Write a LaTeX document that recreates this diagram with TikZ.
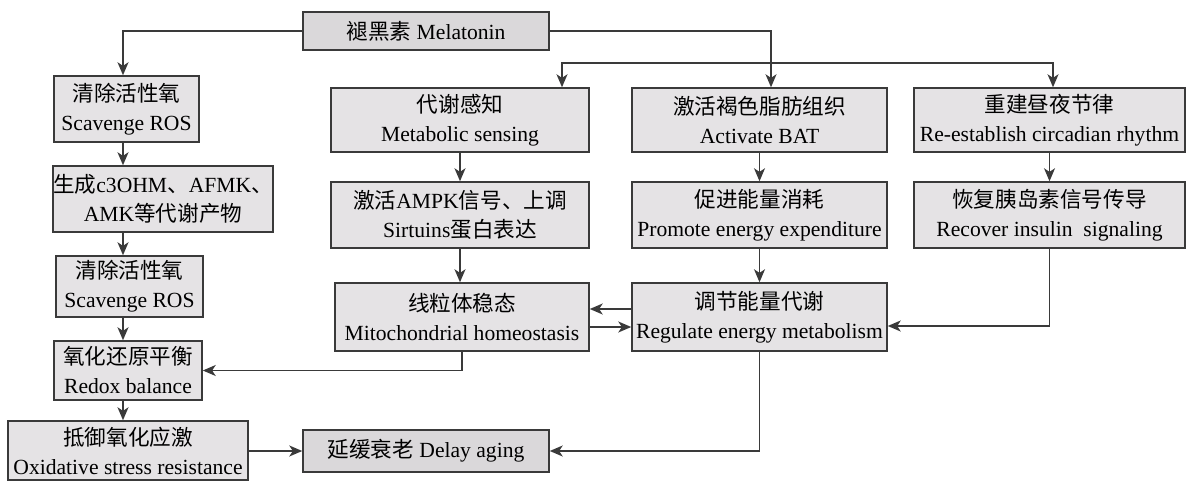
\documentclass[tikz,border=0pt]{standalone}
\usepackage{fontspec}
\setmainfont{Liberation Serif}
\newfontfamily\cjk{Noto Sans CJK SC}
\usetikzlibrary{arrows.meta}

\newcommand{\zh}[1]{{\cjk #1}}
\definecolor{boxfill}{HTML}{E5E3E5}
\definecolor{keyfill}{HTML}{DAD8DA}
\definecolor{linegray}{HTML}{3A3A3A}

\tikzset{
  box/.style={rectangle, draw=linegray, fill=boxfill, line width=0.75pt,
    inner sep=0pt, align=center, font=\fontsize{10.8pt}{14.5pt}\selectfont},
  keybox/.style={box, fill=keyfill},
  arr/.style={draw=linegray, line width=0.75pt,
    -{Stealth[length=6.5pt,width=5.5pt,inset=1.8pt]}}
}

\begin{document}
\begin{tikzpicture}[x=0.5pt,y=-0.5pt]
  \useasboundingbox (0,0) rectangle (1186,481);
  % Boxes
  \node[keybox, minimum width=123pt, minimum height=19pt] (mel) at (426,31) {\zh{褪黑素} Melatonin};
  \node[box, minimum width=72.5pt, minimum height=33pt] (ros1) at (126.5,109) {\zh{清除活性氧}\\Scavenge ROS};
  \node[box, minimum width=109pt, minimum height=33pt] (prod) at (163,199) {\zh{生成}c3OHM\zh{、}AFMK\zh{、}\\AMK\zh{等代谢产物}};
  \node[box, minimum width=73.5pt, minimum height=30.5pt] (ros2) at (129.5,286.5) {\zh{清除活性氧}\\Scavenge ROS};
  \node[box, minimum width=74pt, minimum height=29.5pt] (redox) at (128,370.5) {\zh{氧化还原平衡}\\Redox balance};
  \node[box, minimum width=120pt, minimum height=29.5pt] (oxi) at (128,450.5) {\zh{抵御氧化应激}\\Oxidative stress resistance};
  \node[keybox, minimum width=123pt, minimum height=21pt] (delay) at (426,451) {\zh{延缓衰老} Delay aging};
  \node[box, minimum width=129pt, minimum height=32pt] (sense) at (460,120) {\zh{代谢感知}\\Metabolic sensing};
  \node[box, minimum width=129pt, minimum height=33pt] (ampk) at (460,215) {\zh{激活}AMPK\zh{信号、上调}\\Sirtuins\zh{蛋白表达}};
  \node[box, minimum width=127pt, minimum height=34pt] (mito) at (462,317) {\zh{线粒体稳态}\\Mitochondrial homeostasis};
  \node[box, minimum width=127.5pt, minimum height=32pt] (bat) at (759.5,120) {\zh{激活褐色脂肪组织}\\Activate BAT};
  \node[box, minimum width=127.5pt, minimum height=33pt] (expend) at (759.5,215) {\zh{促进能量消耗}\\Promote energy expenditure};
  \node[box, minimum width=127.5pt, minimum height=34pt] (regul) at (759.5,317) {\zh{调节能量代谢}\\Regulate energy metabolism};
  \node[box, minimum width=135.5pt, minimum height=32pt] (circ) at (1049.5,120) {\zh{重建昼夜节律}\\Re-establish circadian rhythm};
  \node[box, minimum width=135.5pt, minimum height=33pt] (insulin) at (1049.5,215) {\zh{恢复胰岛素信号传导}\\Recover insulin~ signaling};

  \coordinate (lcol) at (123,0);
  \coordinate (fork) at (771,63);

  % Left column
  \draw[arr] (mel.west) -| (ros1.north -| lcol);
  \draw[arr] (ros1.south -| lcol) -- (prod.north -| lcol);
  \draw[arr] (prod.south -| lcol) -- (ros2.north -| lcol);
  \draw[arr] (ros2.south -| lcol) -- (redox.north -| lcol);
  \draw[arr] (redox.south -| lcol) -- (oxi.north -| lcol);
  \draw[arr] (delay.west -| oxi.east) -- (delay.west);

  % Right branches
  \draw[arr] (mel.east) -| ([xshift=5.75pt]bat.north);
  \draw[arr] (fork) -| ([xshift=51pt]sense.north);
  \draw[arr] (fork) -| ([xshift=1.75pt]circ.north);
  \draw[arr] (sense) -- (ampk);
  \draw[arr] (ampk.south) -- (ampk.south |- mito.north);
  \draw[arr] (bat) -- (expend);
  \draw[arr] (expend) -- (regul);
  \draw[arr] (circ) -- (insulin);
  \draw[arr] (insulin.south) |- ([yshift=-4.5pt]regul.east);
  \draw[arr] ([yshift=4pt]regul.west) -- ([yshift=4pt]mito.east);
  \draw[arr] ([yshift=-5pt]mito.east) -- ([yshift=-5pt]regul.west);
  \draw[arr] (mito.south) |- (redox.east);
  \draw[arr] (regul.south) |- (delay.east);
\end{tikzpicture}
\end{document}
